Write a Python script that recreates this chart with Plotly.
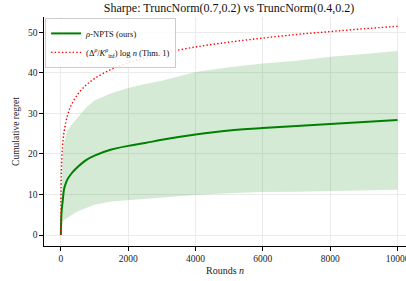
import plotly.graph_objects as go

# ---- data ----
rounds = [0, 20, 50, 100, 150, 200, 300, 400, 500, 750, 1000, 1500, 2000, 2500,
          3000, 4000, 5000, 6000, 7000, 8000, 9000, 10000]
mean_regret = [0, 5.5, 8.0, 11.5, 12.8, 13.8, 15.0, 16.0, 16.8, 18.5, 19.6, 21.1,
               22.0, 22.7, 23.5, 24.8, 25.8, 26.4, 26.9, 27.4, 27.9, 28.4]
upper_band = [0, 14.0, 19.5, 23.0, 24.8, 25.8, 27.0, 28.0, 28.8, 31.5, 33.2, 35.0,
              36.3, 37.3, 38.1, 40.2, 41.4, 42.3, 43.0, 44.0, 44.7, 45.4]
lower_band = [0, 2.3, 3.2, 3.7, 4.0, 4.4, 5.0, 5.4, 5.9, 6.8, 7.5, 8.3, 8.6, 8.9,
              9.3, 9.9, 10.3, 10.6, 10.7, 10.9, 11.0, 11.2]

bound_rounds = [1, 5, 10, 20, 50, 100, 200, 300, 500, 750, 1000, 1500, 2000, 2500,
                3000, 4000, 5000, 6000, 7000, 8000, 9000, 10000]
bound_regret = [0, 9.0, 12.9, 16.7, 21.9, 25.7, 29.6, 31.9, 34.7, 37.0, 38.6, 40.9,
                42.5, 43.7, 44.8, 46.4, 47.6, 48.6, 49.5, 50.2, 50.9, 51.5]

x_ticks = [0, 2000, 4000, 6000, 8000, 10000]
y_ticks = [0, 10, 20, 30, 40, 50]

FONT = "Liberation Serif"

fig = go.Figure()
fig.add_trace(go.Scatter(x=rounds, y=lower_band, mode="lines",
                         line=dict(width=0, color="rgba(0,128,0,0)"),
                         showlegend=False, hoverinfo="skip"))
fig.add_trace(go.Scatter(x=rounds, y=upper_band, mode="lines", fill="tonexty",
                         fillcolor="rgba(0,128,0,0.17)",
                         line=dict(width=0, color="rgba(0,128,0,0)"),
                         showlegend=False, hoverinfo="skip"))
fig.add_trace(go.Scatter(x=rounds, y=mean_regret, mode="lines",
                         line=dict(color="#008000", width=2, shape="spline"),
                         name="<i>ρ</i>-NPTS (ours)"))
fig.add_trace(go.Scatter(x=bound_rounds, y=bound_regret, mode="lines",
                         line=dict(color="#ff0000", width=1.4, dash="1.4px,2.2px", shape="spline"),
                         name="(Δ<sup><i>ρ</i></sup>/<i>K</i><sup><i>ρ</i></sup><sub>inf</sub>) log <i>n</i> (Thm. 1)"))

fig.update_layout(
    width=406, height=281,
    margin=dict(l=44, r=0, t=17, b=35, autoexpand=False),
    paper_bgcolor="white", plot_bgcolor="white",
    font=dict(family=FONT, size=9.5, color="#222"),
    title=dict(text="Sharpe: TruncNorm(0.7,0.2) vs TruncNorm(0.4,0.2)",
               x=229 / 406, xref="container", xanchor="center",
               y=1 - 8 / 281, yanchor="middle", yref="container",
               font=dict(family=FONT, size=12, color="#111")),
    legend=dict(x=0.003, y=0.996, xanchor="left", yanchor="top",
                traceorder="normal",
                bgcolor="rgba(255,255,255,0.85)", bordercolor="#cccccc", borderwidth=1,
                font=dict(family=FONT, size=8.5, color="#111"),
                itemwidth=30, tracegroupgap=0),
    xaxis=dict(range=[-500, 10252], tickvals=x_ticks, automargin=False,
               ticktext=[str(v) for v in x_ticks], ticklabeloverflow="allow",
               showgrid=True, gridcolor="#ebebeb", gridwidth=1, zeroline=False,
               showline=True, linecolor="black", linewidth=1.2,
               ticks="outside", ticklen=3.5, tickcolor="black",
               title=dict(text="Rounds <i>n</i>", font=dict(family=FONT, size=10), standoff=3)),
    yaxis=dict(range=[-2.7, 53.8], tickvals=y_ticks, automargin=False,
               showgrid=True, gridcolor="#ebebeb", gridwidth=1, zeroline=False,
               showline=True, linecolor="black", linewidth=1.2,
               ticks="outside", ticklen=3.5, tickcolor="black",
               title=dict(text="Cumulative regret", font=dict(family=FONT, size=9.5), standoff=6)),
)

fig.write_html("out.html", config={"displayModeBar": False},
               post_script="document.body.style.margin='0';document.body.style.overflow='hidden';")
